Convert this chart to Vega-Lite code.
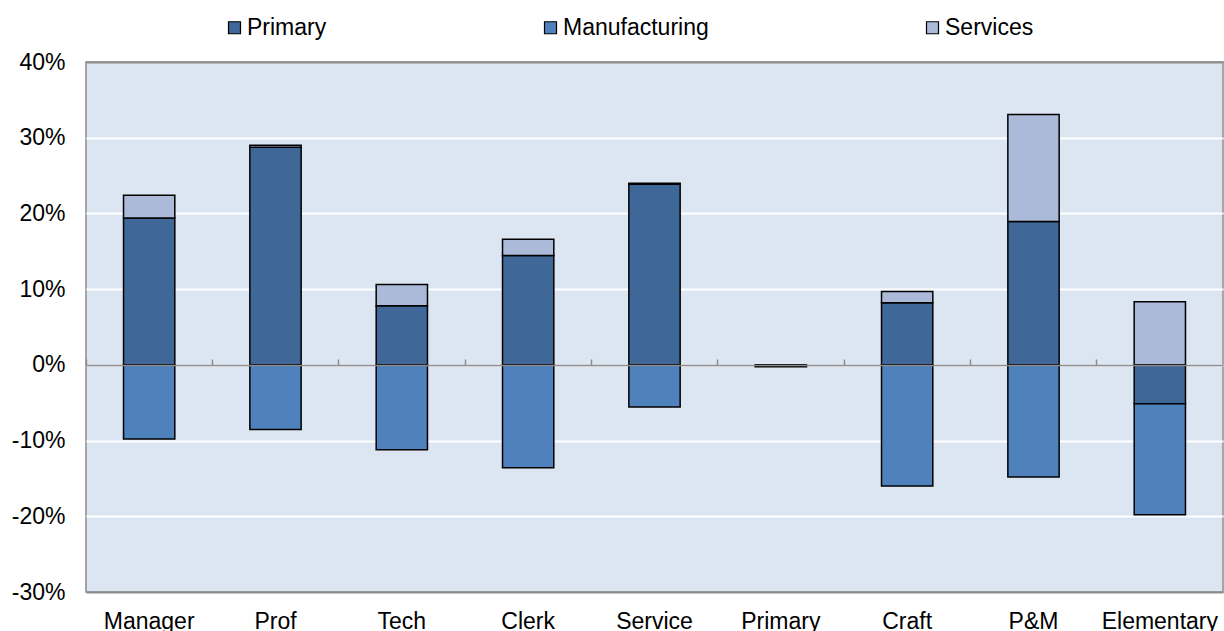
{
  "$schema": "https://vega.github.io/schema/vega-lite/v6.json",
  "autosize": {"type": "none"},
  "width": 1137,
  "height": 530,
  "padding": {"left": 86, "top": 62, "right": 1, "bottom": 39},
  "background": "white",
  "config": {
    "font": "Liberation Sans",
    "view": {"fill": "#DCE6F2", "stroke": "#8C8C8C", "strokeWidth": 1.5}
  },
  "data": {
    "values": [
      {"occupation": "Manager", "sector": "Primary", "k": 1, "value": 19.4},
      {"occupation": "Manager", "sector": "Manufacturing", "k": 2, "value": -9.8},
      {"occupation": "Manager", "sector": "Services", "k": 3, "value": 3.0},
      {"occupation": "Prof", "sector": "Primary", "k": 1, "value": 28.75},
      {"occupation": "Prof", "sector": "Manufacturing", "k": 2, "value": -8.55},
      {"occupation": "Prof", "sector": "Services", "k": 3, "value": 0.25},
      {"occupation": "Tech", "sector": "Primary", "k": 1, "value": 7.8},
      {"occupation": "Tech", "sector": "Manufacturing", "k": 2, "value": -11.2},
      {"occupation": "Tech", "sector": "Services", "k": 3, "value": 2.8},
      {"occupation": "Clerk", "sector": "Primary", "k": 1, "value": 14.45},
      {"occupation": "Clerk", "sector": "Manufacturing", "k": 2, "value": -13.6},
      {"occupation": "Clerk", "sector": "Services", "k": 3, "value": 2.15},
      {"occupation": "Service", "sector": "Primary", "k": 1, "value": 23.85},
      {"occupation": "Service", "sector": "Manufacturing", "k": 2, "value": -5.55},
      {"occupation": "Service", "sector": "Services", "k": 3, "value": 0.15},
      {"occupation": "Primary", "sector": "Primary", "k": 1, "value": -0.15},
      {"occupation": "Primary", "sector": "Manufacturing", "k": 2, "value": -0.1},
      {"occupation": "Primary", "sector": "Services", "k": 3, "value": 0.0},
      {"occupation": "Craft", "sector": "Primary", "k": 1, "value": 8.2},
      {"occupation": "Craft", "sector": "Manufacturing", "k": 2, "value": -16.0},
      {"occupation": "Craft", "sector": "Services", "k": 3, "value": 1.5},
      {"occupation": "P&M", "sector": "Primary", "k": 1, "value": 18.95},
      {"occupation": "P&M", "sector": "Manufacturing", "k": 2, "value": -14.8},
      {"occupation": "P&M", "sector": "Services", "k": 3, "value": 14.1},
      {"occupation": "Elementary", "sector": "Primary", "k": 1, "value": -5.15},
      {"occupation": "Elementary", "sector": "Manufacturing", "k": 2, "value": -14.65},
      {"occupation": "Elementary", "sector": "Services", "k": 3, "value": 8.35}
    ]
  },
  "layer": [
    {
      "mark": {"type": "bar", "stroke": "black", "strokeWidth": 1.5},
      "encoding": {
        "x": {
          "field": "occupation",
          "type": "nominal",
          "sort": null,
          "scale": {"paddingInner": 0.594, "paddingOuter": 0.297},
          "axis": {
            "title": null,
            "orient": "bottom",
            "labelAngle": 0,
            "labelFontSize": 23,
            "labelColor": "black",
            "labelPadding": 18,
            "ticks": false,
            "domain": false,
            "grid": false
          }
        },
        "y": {
          "field": "value",
          "type": "quantitative",
          "stack": "zero",
          "scale": {"domain": [-30, 40], "nice": false, "zero": false},
          "axis": {
            "title": null,
            "values": [-30, -20, -10, 0, 10, 20, 30, 40],
            "labelExpr": "datum.value + '%'",
            "labelFontSize": 23,
            "labelColor": "black",
            "labelPadding": 21,
            "ticks": false,
            "domain": false,
            "grid": true,
            "gridColor": {
              "condition": {"test": "datum.value == 40 || datum.value == -30", "value": "#8C8C8C"},
              "value": "white"
            },
            "gridWidth": 2
          }
        },
        "color": {
          "field": "sector",
          "type": "nominal",
          "scale": {
            "domain": ["Primary", "Manufacturing", "Services"],
            "range": ["#3F6899", "#4F81BD", "#AABAD8"]
          },
          "legend": {
            "title": null,
            "orient": "none",
            "legendX": 137,
            "legendY": -46,
            "direction": "horizontal",
            "columns": 3,
            "columnPadding": 212,
            "symbolType": "square",
            "symbolSize": 144,
            "symbolStrokeColor": "black",
            "symbolStrokeWidth": 1.2,
            "symbolOpacity": 1,
            "labelFontSize": 23,
            "labelColor": "black",
            "labelOffset": 1
          }
        },
        "order": {"field": "k", "type": "quantitative"}
      }
    },
    {
      "mark": {"type": "rule", "opacity": 0},
      "encoding": {
        "x": {
          "field": "occupation",
          "type": "nominal",
          "sort": null,
          "scale": {"paddingInner": 0, "paddingOuter": 0},
          "axis": {
            "title": null,
            "orient": "top",
            "offset": -303,
            "zindex": 1,
            "labels": false,
            "ticks": true,
            "bandPosition": 0,
            "tickSize": 6,
            "tickColor": "#8C8C8C",
            "tickWidth": 1.5,
            "domain": true,
            "domainColor": "#8C8C8C",
            "domainWidth": 1.5,
            "grid": false
          }
        }
      }
    }
  ],
  "resolve": {"scale": {"x": "independent"}, "axis": {"x": "independent"}}
}
